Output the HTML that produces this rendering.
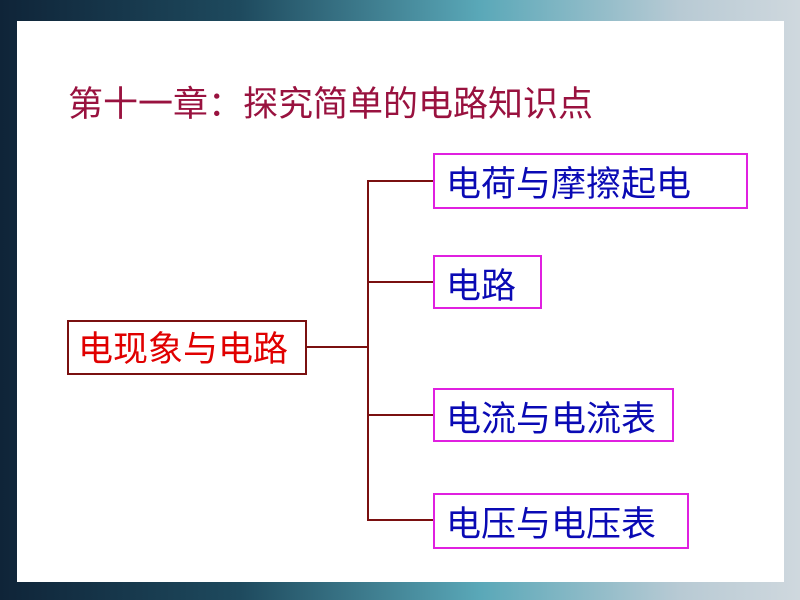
<!DOCTYPE html>
<html><head><meta charset="utf-8"><style>
body{margin:0;width:800px;height:600px;overflow:hidden;position:relative;
background:linear-gradient(90deg,#0f2438 0%,#1e4a5e 30%,#5aa8b8 60%,#b8cad4 85%,#cfd8de 100%);
font-family:"Liberation Sans","WenQuanYi Zen Hei","Noto Sans CJK SC",sans-serif;}
.panel{position:absolute;left:17px;top:21px;width:767px;height:561px;background:#fff;}
.t{position:absolute;left:68px;top:84px;font-size:35px;line-height:42px;color:#99123f;white-space:nowrap}
.b{position:absolute;box-sizing:border-box;border:2px solid #e020e0;font-size:35px;color:#0a0ab4;padding-left:11px;line-height:60px;white-space:nowrap}
.r{position:absolute;left:67px;top:320px;width:240px;height:55px;box-sizing:border-box;border:2px solid #7a1010;color:#e00000;font-size:35px;line-height:56px;padding-left:9px;white-space:nowrap}
.l{position:absolute;background:#7a1010}
</style></head><body>
<div class="panel"></div>
<div class="t">第十一章：探究简单的电路知识点</div>
<div class="r">电现象与电路</div>
<div class="l" style="left:306px;top:346px;width:63px;height:2px"></div>
<div class="l" style="left:367px;top:180px;width:2px;height:341px"></div>
<div class="l" style="left:367px;top:180px;width:66px;height:2px"></div>
<div class="l" style="left:367px;top:281px;width:66px;height:2px"></div>
<div class="l" style="left:367px;top:414px;width:66px;height:2px"></div>
<div class="l" style="left:367px;top:519px;width:66px;height:2px"></div>
<div class="b" style="left:433px;top:153px;width:315px;height:56px">电荷与摩擦起电</div>
<div class="b" style="left:433px;top:255px;width:109px;height:54px">电路</div>
<div class="b" style="left:433px;top:388px;width:241px;height:54px">电流与电流表</div>
<div class="b" style="left:433px;top:493px;width:256px;height:56px">电压与电压表</div>
</body></html>
